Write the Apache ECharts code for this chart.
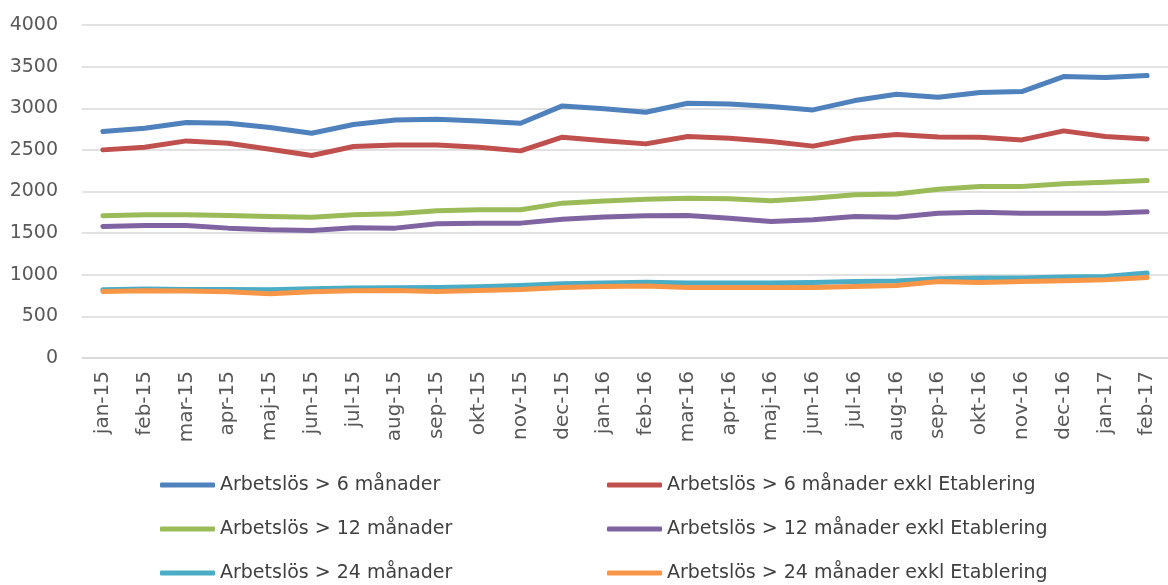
<!DOCTYPE html>
<html>
<head>
<meta charset="utf-8">
<script src="https://cdn.jsdelivr.net/npm/echarts@6/dist/echarts.min.js"></script>
<style>
  html, body { margin: 0; padding: 0; background: #fff; }
  #chart { width: 1168px; height: 585px; }
</style>
</head>
<body>
<div id="chart"></div>
<script>
var months = ['jan-15', 'feb-15', 'mar-15', 'apr-15', 'maj-15', 'jun-15', 'jul-15', 'aug-15', 'sep-15', 'okt-15', 'nov-15', 'dec-15',
  'jan-16', 'feb-16', 'mar-16', 'apr-16', 'maj-16', 'jun-16', 'jul-16', 'aug-16', 'sep-16', 'okt-16', 'nov-16', 'dec-16',
  'jan-17', 'feb-17']

var seriesNames = [
  'Arbetslös > 6 månader',
  'Arbetslös > 6 månader exkl Etablering',
  'Arbetslös > 12 månader',
  'Arbetslös > 12 månader exkl Etablering',
  'Arbetslös > 24 månader',
  'Arbetslös > 24 månader exkl Etablering'
]

var over6 = [2720, 2760, 2828, 2820, 2768, 2700, 2805, 2860, 2868, 2848, 2820, 3028, 2995, 2952, 3060, 3052, 3020, 2980, 3092, 3168, 3132, 3188, 3200, 3380, 3368, 3392]
var over6Exkl = [2500, 2532, 2608, 2580, 2508, 2432, 2540, 2560, 2560, 2532, 2488, 2652, 2610, 2572, 2660, 2640, 2600, 2545, 2640, 2685, 2655, 2652, 2620, 2728, 2660, 2632]
var over12 = [1708, 1720, 1720, 1712, 1700, 1692, 1722, 1732, 1768, 1780, 1780, 1860, 1885, 1908, 1920, 1912, 1888, 1920, 1960, 1970, 2028, 2060, 2060, 2092, 2112, 2132]
var over12Exkl = [1580, 1592, 1592, 1560, 1540, 1532, 1565, 1560, 1612, 1620, 1620, 1668, 1695, 1708, 1712, 1680, 1640, 1660, 1700, 1692, 1740, 1752, 1740, 1740, 1740, 1756]
var over24 = [820, 828, 824, 824, 820, 832, 840, 844, 848, 856, 872, 892, 900, 910, 900, 900, 900, 908, 920, 924, 952, 960, 960, 972, 980, 1020]
var over24Exkl = [800, 808, 804, 796, 772, 796, 808, 812, 800, 812, 824, 848, 860, 864, 848, 848, 848, 848, 860, 872, 920, 908, 920, 928, 940, 968]

var colors = ['#4F81BD', '#C0504D', '#9BBB59', '#8064A2', '#4BACC6', '#F79646']
var values = [over6, over6Exkl, over12, over12Exkl, over24, over24Exkl]

var font = 'DejaVu Sans'

// one legend per entry: two columns, three rows
var legendCols = [160, 607]
var legendRows = [475, 519, 563]
var legends = seriesNames.map(function(name, i) {
  return {
    left: legendCols[i % 2],
    top: legendRows[Math.floor(i / 2)],
    padding: 0,
    icon: 'roundRect',
    itemWidth: 55,
    itemHeight: 5,
    textStyle: { fontFamily: font, fontSize: 19, color: '#404040', lineHeight: 20 },
    data: [name]
  }
})

var chart = echarts.init(document.getElementById('chart'))
chart.setOption({
  animation: false,
  color: colors,
  grid: { left: 82, right: -8, top: 25, bottom: 227 },
  legend: legends,
  xAxis: {
    type: 'category',
    data: months,
    boundaryGap: true,
    axisLine: { lineStyle: { color: '#d9d9d9', width: 1.5 } },
    axisTick: { length: 7, lineStyle: { color: '#d9d9d9', width: 1.5 } },
    axisLabel: { rotate: 90, margin: 13, fontFamily: font, fontSize: 20, color: '#595959' }
  },
  yAxis: {
    type: 'value',
    min: 0,
    max: 4000,
    interval: 500,
    axisLine: { show: false },
    axisTick: { show: false },
    axisLabel: {
      margin: 24,
      fontFamily: font,
      fontSize: 19,
      color: '#595959',
      formatter: function(v) { return String(v) }
    },
    splitLine: { lineStyle: { color: '#d9d9d9', width: 1.5 } }
  },
  series: values.map(function(v, i) {
    return {
      name: seriesNames[i],
      type: 'line',
      data: v,
      symbol: 'none',
      lineStyle: { width: 5, cap: 'round', join: 'round' }
    }
  })
})
</script>
</body>
</html>
